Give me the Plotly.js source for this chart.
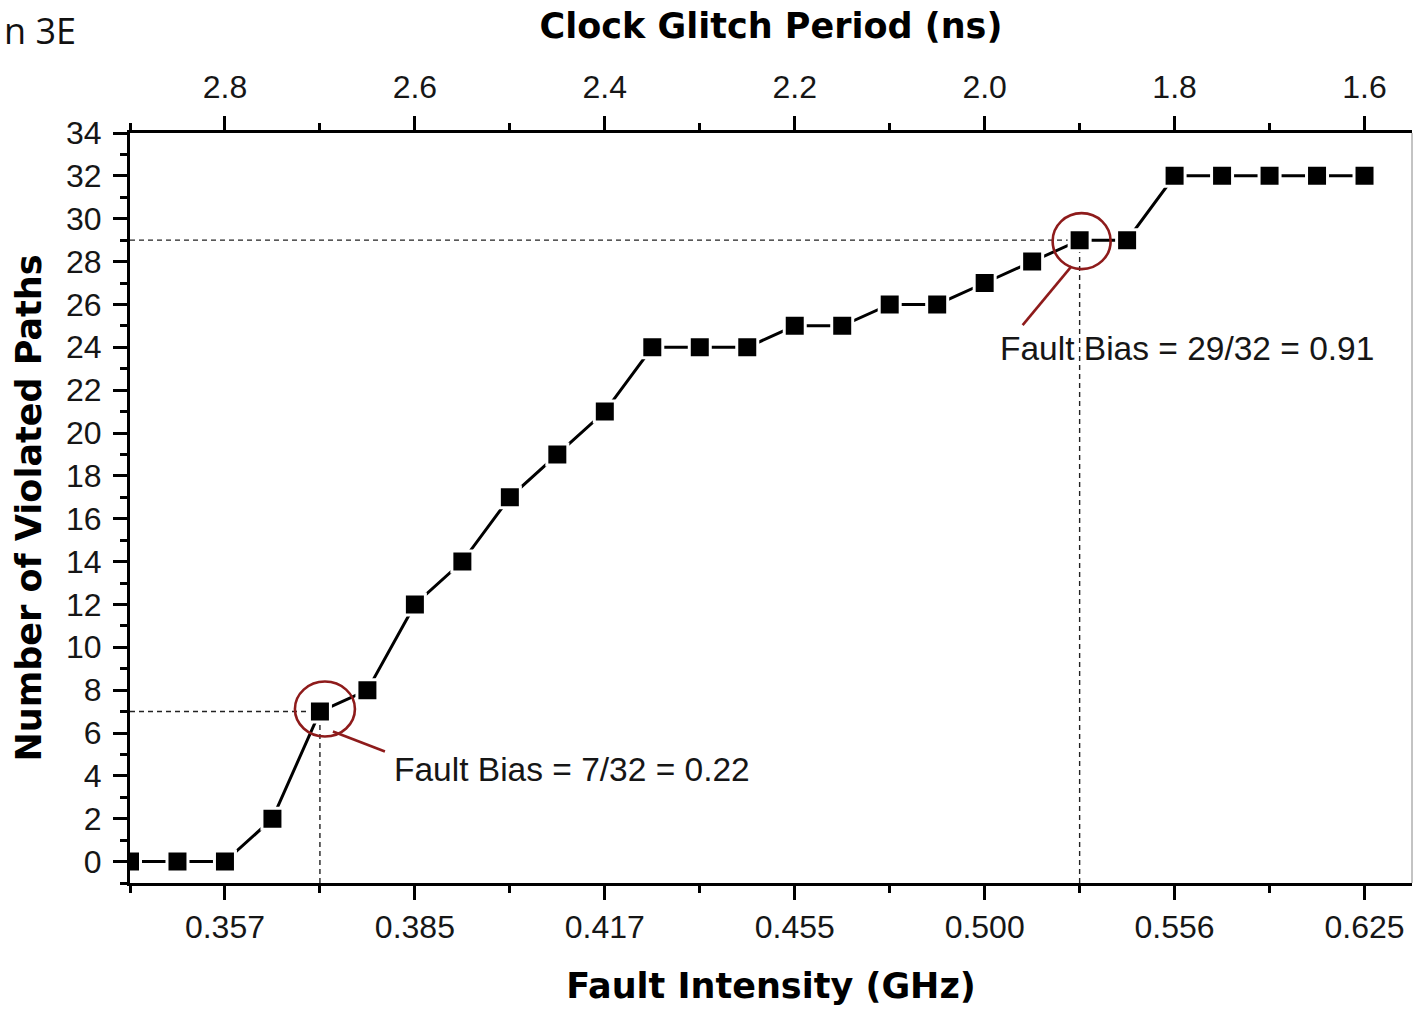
<!DOCTYPE html>
<html>
<head>
<meta charset="utf-8">
<script src="https://cdn.plot.ly/plotly-3.0.1.min.js"></script>
<style>
  html, body { margin: 0; padding: 0; background: #fff; }
  #chart { width: 1414px; height: 1013px; }
</style>
</head>
<body>
<div id="chart"></div>
<script>
// ---- Data ----
const periodNs = [2.9, 2.85, 2.8, 2.75, 2.7, 2.65, 2.6, 2.55, 2.5, 2.45, 2.4, 2.35, 2.3, 2.25,
                  2.2, 2.15, 2.1, 2.05, 2.0, 1.95, 1.9, 1.85, 1.8, 1.75, 1.7, 1.65, 1.6];
const violatedPaths = [0, 0, 0, 2, 7, 8, 12, 14, 17, 19, 21, 24, 24, 24,
                       25, 25, 26, 26, 27, 28, 29, 29, 32, 32, 32, 32, 32];
const periodTickVals = [2.8, 2.6, 2.4, 2.2, 2.0, 1.8, 1.6];
const periodTickText = ['2.8', '2.6', '2.4', '2.2', '2.0', '1.8', '1.6'];
const freqTickText = ['0.357', '0.385', '0.417', '0.455', '0.500', '0.556', '0.625'];
const minorPeriodTicks = [2.9, 2.7, 2.5, 2.3, 2.1, 1.9, 1.7];
const highlightIndex = [4, 20];
const biasLabels = ['Fault Bias = 7/32 = 0.22', 'Fault Bias = 29/32 = 0.91'];
const cornerLabel = 'n 3E';

// ---- Layout constants ----
const xRange = [2.9, 1.55];
const yRange = [-1, 34];
const RED = '#8e1b1b';
const tickFont = { family: 'Liberation Sans, Arial, sans-serif', size: 32, color: '#161616' };
const titleFont = { family: 'DejaVu Sans, sans-serif', size: 35, color: '#000', weight: 'bold' };

const axisCommon = {
  showgrid: false, zeroline: false,
  showline: true, linecolor: '#000', linewidth: 3,
  ticks: 'outside', ticklen: 14, tickwidth: 3, tickcolor: '#000',
  tickfont: tickFont
};
const minorX = { tickmode: 'array', tickvals: minorPeriodTicks, ticks: 'outside', ticklen: 7, tickwidth: 3, tickcolor: '#000' };

// per-highlight geometry (pixel offsets from the highlighted data point)
const circleOff = [
  { x0: -25, x1: 35, y0: -25, y1: 30 },
  { x0: -27, x1: 31, y0: -29, y1: 27 }
];
const leaderOff = [
  { x0: 13, y0: -20, x1: 65, y1: -40 },
  { x0: -8, y0: -26, x1: -57, y1: -85 }
];
const labelShift = [
  { xs: 72, ys: -58 },
  { xs: -82, ys: -108 }
];

const shapes = [];
const annotations = [];

highlightIndex.forEach((idx, k) => {
  const px = periodNs[idx], py = violatedPaths[idx];
  shapes.push({
    type: 'line', xref: 'x', yref: 'y', layer: 'below',
    x0: xRange[0], x1: px, y0: py, y1: py,
    line: { color: '#222', width: 1.4, dash: '5px,4px' }
  });
  shapes.push({
    type: 'line', xref: 'x', yref: 'y', layer: 'below',
    x0: px, x1: px, y0: yRange[0], y1: py,
    line: { color: '#222', width: 1.4, dash: '5px,4px' }
  });
  const c = circleOff[k];
  shapes.push({
    type: 'circle', xref: 'x', yref: 'y', layer: 'above',
    xsizemode: 'pixel', ysizemode: 'pixel', xanchor: px, yanchor: py,
    x0: c.x0, x1: c.x1, y0: c.y0, y1: c.y1,
    line: { color: RED, width: 2.6 }, fillcolor: 'rgba(0,0,0,0)'
  });
  const l = leaderOff[k];
  shapes.push({
    type: 'line', xref: 'x', yref: 'y', layer: 'above',
    xsizemode: 'pixel', ysizemode: 'pixel', xanchor: px, yanchor: py,
    x0: l.x0, x1: l.x1, y0: l.y0, y1: l.y1,
    line: { color: RED, width: 2.6 }
  });
  const s = labelShift[k];
  annotations.push({
    x: px, y: py, xref: 'x', yref: 'y', showarrow: false,
    xanchor: 'left', yanchor: 'middle', xshift: s.xs, yshift: s.ys,
    text: biasLabels[k],
    font: { family: 'Liberation Sans, Arial, sans-serif', size: 33.5, color: '#161616' }
  });
});

// right frame border (thin)
shapes.push({
  type: 'line', xref: 'paper', yref: 'paper', x0: 1, x1: 1, y0: 0, y1: 1,
  line: { color: '#888', width: 1 }
});

annotations.push({
  xref: 'paper', yref: 'paper', x: -128 / 1282, y: 1 + 102 / 750,
  xanchor: 'left', yanchor: 'middle', showarrow: false,
  text: cornerLabel,
  font: { family: 'Open Sans, sans-serif', size: 36, color: '#111' }
});

const trace = {
  type: 'scatter', mode: 'lines+markers',
  x: periodNs, y: violatedPaths, xaxis: 'x', yaxis: 'y',
  line: { color: '#000', width: 3 },
  marker: { symbol: 'square', size: 21, color: '#000', line: { color: '#fff', width: 3 } },
  showlegend: false, hoverinfo: 'x+y'
};
// carrier for the top (period) axis: draws nothing
const topAxisCarrier = {
  type: 'scatter', mode: 'none',
  x: periodNs, y: violatedPaths, xaxis: 'x2', yaxis: 'y',
  showlegend: false, hoverinfo: 'skip'
};

const layout = {
  width: 1414, height: 1013,
  margin: { l: 130, r: 2, t: 133, b: 130, pad: 0 },
  paper_bgcolor: '#fff', plot_bgcolor: '#fff',
  showlegend: false,
  xaxis: Object.assign({}, axisCommon, {
    range: xRange, side: 'bottom', anchor: 'y',
    tickmode: 'array', tickvals: periodTickVals, ticktext: freqTickText,
    minor: minorX,
    title: { text: 'Fault Intensity (GHz)', font: titleFont, standoff: 30 }
  }),
  xaxis2: Object.assign({}, axisCommon, {
    range: xRange, side: 'top', overlaying: 'x', anchor: 'y',
    tickmode: 'array', tickvals: periodTickVals, ticktext: periodTickText,
    ticklabelstandoff: 5,
    minor: minorX,
    title: { text: 'Clock Glitch Period (ns)', font: titleFont, standoff: 20 }
  }),
  yaxis: Object.assign({}, axisCommon, {
    range: yRange, tickmode: 'linear', tick0: 0, dtick: 2,
    ticklabelstandoff: 5,
    minor: { tickmode: 'linear', tick0: 1, dtick: 2, ticks: 'outside', ticklen: 7, tickwidth: 3, tickcolor: '#000' },
    title: { text: 'Number of Violated Paths', font: titleFont, standoff: 14 }
  }),
  shapes: shapes,
  annotations: annotations
};

Plotly.newPlot('chart', [topAxisCarrier, trace], layout, { displayModeBar: false, staticPlot: true });
</script>
</body>
</html>
